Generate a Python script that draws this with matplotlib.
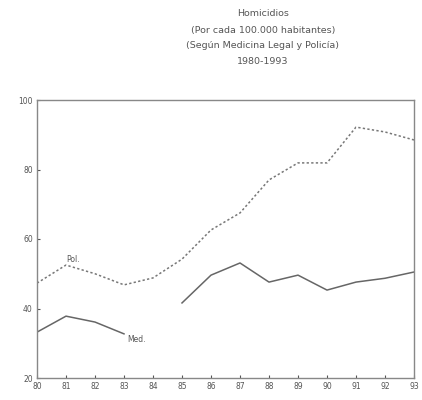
import matplotlib
matplotlib.use("Agg")
import matplotlib.pyplot as plt
import numpy as np

# años 1980-1993 (etiquetas de dos cifras)
anos = np.arange(80, 94)
etiquetas = [str(a) for a in anos]
# Policía (línea punteada)
pol = [47.3, 52.5, 50.0, 46.8, 48.8, 54.2, 62.6, 67.5, 77.0, 81.9, 81.9, 92.2, 90.8, 88.5]
# Medicina Legal (línea continua), sin dato en 1984
med = [33.2, 37.8, 36.1, 32.7, np.nan, 41.6, 49.6, 53.1, 47.6, 49.6, 45.3, 47.6, 48.7, 50.5]

gris = "#555555"

fig = plt.figure(figsize=(4.22, 4.0), dpi=100)
ax = fig.add_axes([37/422, 22/400, 377/422, 278/400])

ax.plot(anos, pol, color="#777777", lw=1.1, ls=(0, (1.5, 1.5)))
ax.plot(anos, med, color="#666666", lw=1.1)

ax.set_xlim(80, 93)
ax.set_ylim(20, 100)
ax.set_xticks(anos)
ax.set_xticklabels(etiquetas)
ax.set_yticks([20, 40, 60, 80, 100])
ax.tick_params(direction="in", length=2, labelsize=5.5, colors=gris, pad=3)
for s in ax.spines.values():
    s.set_color("#888888")
    s.set_linewidth(1.0)

ax.text(81, 53.5, "Pol.", fontsize=5.5, color=gris)
ax.text(83.1, 30.5, "Med.", fontsize=5.5, color=gris)

titulo = ["Homicidios", "(Por cada 100.000 habitantes)",
          "(Según Medicina Legal y Policía)", "1980-1993"]
for i, t in enumerate(titulo):
    fig.text(263/422, 1 - (14 + 16*i)/400, t, ha="center", va="center",
             fontsize=6.8, color=gris)

fig.savefig("out.png", dpi=100)
